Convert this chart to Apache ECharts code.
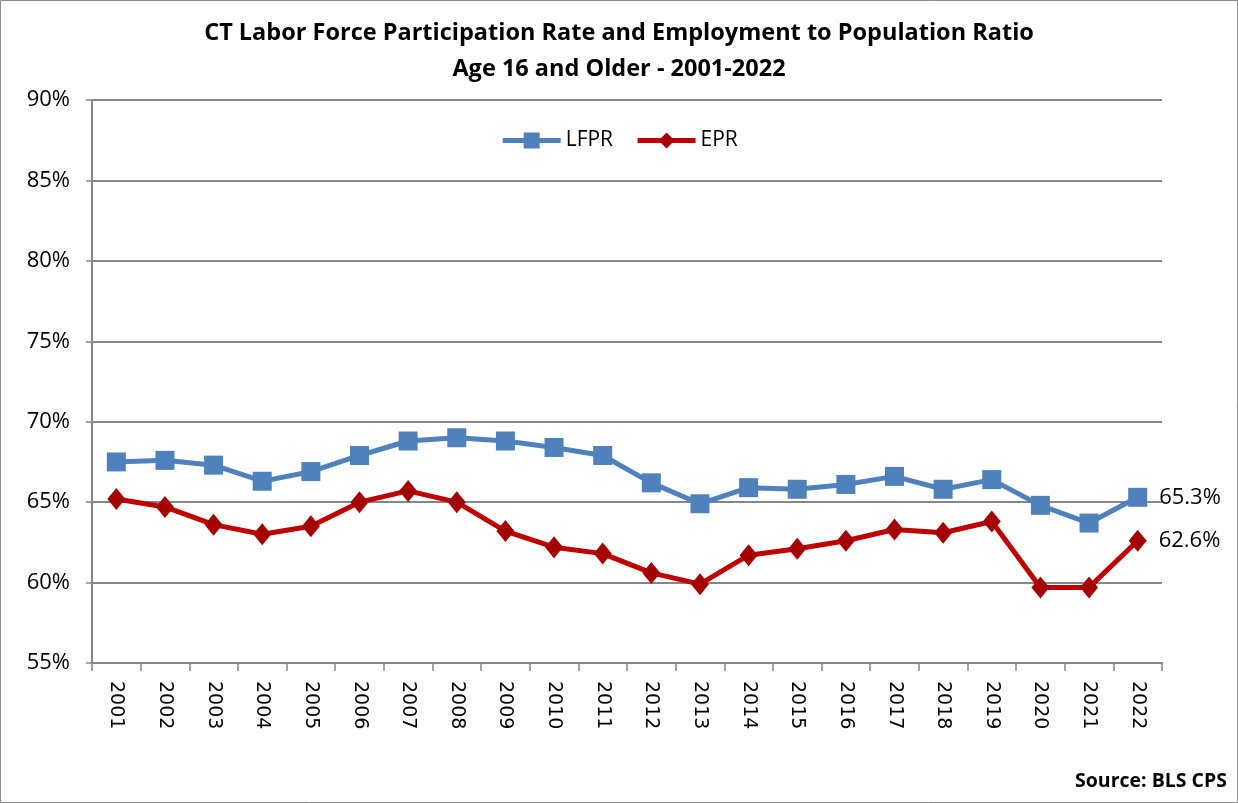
<!DOCTYPE html>
<html>
<head>
<meta charset="utf-8">
<style>
  html, body { margin: 0; padding: 0; background: #fff; }
  #chart { width: 1238px; height: 803px; }
</style>
<script src="https://cdn.jsdelivr.net/npm/echarts@6/dist/echarts.min.js"></script>
</head>
<body>
<div id="chart"></div>
<script>
  const years = ['2001', '2002', '2003', '2004', '2005', '2006', '2007', '2008', '2009', '2010', '2011',
    '2012', '2013', '2014', '2015', '2016', '2017', '2018', '2019', '2020', '2021', '2022'];
  const lfpr = [67.5, 67.6, 67.3, 66.3, 66.9, 67.9, 68.8, 69.0, 68.8, 68.4, 67.9,
    66.2, 64.9, 65.9, 65.8, 66.1, 66.6, 65.8, 66.4, 64.8, 63.7, 65.3];
  const epr = [65.2, 64.7, 63.6, 63.0, 63.5, 65.0, 65.7, 65.0, 63.2, 62.2, 61.8,
    60.6, 59.9, 61.7, 62.1, 62.6, 63.3, 63.1, 63.8, 59.7, 59.7, 62.6];

  const font = "'Open Sans', 'Noto Sans', sans-serif";
  const grey = '#868686';

  // only the last point carries a value label
  function endLabel(params) {
    return params.dataIndex === years.length - 1 ? params.value.toFixed(1) + '%' : '';
  }

  const chart = echarts.init(document.getElementById('chart'));
  chart.setOption({
    animation: false,
    backgroundColor: '#fff',
    title: [
      {
        text: 'CT Labor Force Participation Rate and Employment to Population Ratio\nAge 16 and Older - 2001-2022',
        left: 'center',
        top: 10,
        textStyle: { fontFamily: font, fontSize: 23.5, fontWeight: 'bold', color: '#000', lineHeight: 36 },
      },
      {
        text: 'Source: BLS CPS',
        right: 6,
        top: 766,
        textStyle: { fontFamily: font, fontSize: 19.5, fontWeight: 'bold', color: '#000' },
      },
    ],
    graphic: [
      {
        type: 'rect',
        shape: { x: 0.5, y: 0.5, width: 1237, height: 802 },
        style: { fill: 'none', stroke: '#8c8c8c', lineWidth: 1 },
        silent: true,
      },
    ],
    legend: {
      top: 125,
      left: 'center',
      itemWidth: 58,
      itemHeight: 20,
      itemGap: 22,
      lineStyle: { width: 5 },
      textStyle: { fontFamily: font, fontSize: 21, color: '#000' },
      data: ['LFPR', 'EPR'],
    },
    grid: { left: 92, right: 76, top: 100, bottom: 140 },
    xAxis: {
      type: 'category',
      data: years,
      boundaryGap: true,
      axisLine: { lineStyle: { color: grey, width: 2 } },
      axisTick: { show: true, length: 8, lineStyle: { color: grey, width: 1.5 } },
      axisLabel: {
        rotate: -90,
        margin: 18,
        color: '#000',
        fontFamily: "'DejaVu Sans', sans-serif",
        fontSize: 19,
      },
    },
    yAxis: {
      type: 'value',
      min: 55,
      max: 90,
      interval: 5,
      axisLine: { show: true, lineStyle: { color: grey, width: 2 } },
      axisTick: { show: true, length: 6, lineStyle: { color: grey, width: 1.5 } },
      axisLabel: { formatter: '{value}%', color: '#000', fontFamily: font, fontSize: 22, margin: 22 },
      splitLine: { lineStyle: { color: grey, width: 2 } },
    },
    series: [
      {
        name: 'LFPR',
        type: 'line',
        data: lfpr,
        symbol: 'rect',
        symbolSize: 19,
        lineStyle: { color: '#4F81BD', width: 5 },
        itemStyle: { color: '#4F81BD' },
        label: {
          show: true,
          position: 'right',
          distance: 12,
          formatter: endLabel,
          color: '#000',
          fontFamily: font,
          fontSize: 22,
        },
        z: 3,
      },
      {
        name: 'EPR',
        type: 'line',
        data: epr,
        symbol: 'diamond',
        symbolSize: [18, 22],
        lineStyle: { color: '#C00000', width: 5 },
        itemStyle: { color: '#A50000' },
        label: {
          show: true,
          position: 'right',
          distance: 12,
          formatter: endLabel,
          color: '#000',
          fontFamily: font,
          fontSize: 22,
        },
        z: 4,
      },
    ],
  });
</script>
</body>
</html>
